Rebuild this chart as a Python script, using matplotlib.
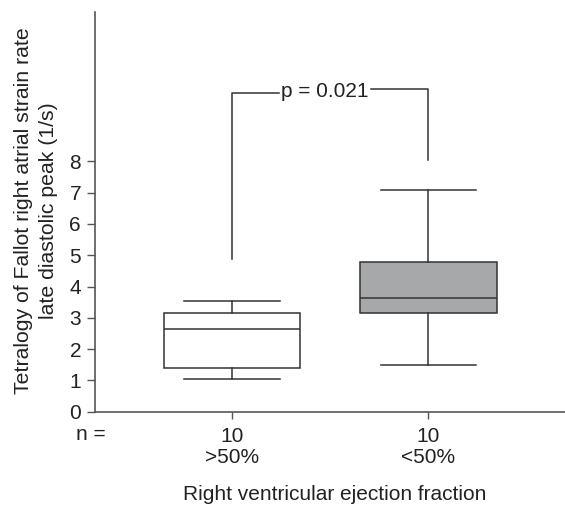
import matplotlib
matplotlib.use("Agg")
import matplotlib.pyplot as plt

plt.rcParams['font.family'] = ['Liberation Sans', 'DejaVu Sans']

groups = [">50%", "<50%"]
n_counts = [10, 10]
whislo = [1.04, 1.50]
q1 = [1.40, 3.14]
med = [2.64, 3.63]
q3 = [3.16, 4.79]
whishi = [3.55, 7.10]
box_colors = ["white", "#a7a8aa"]
bracket_left_bottom = 4.87
bracket_right_bottom = 8.06
bracket_left_top = 10.2
bracket_right_top = 10.3
p_text = "p = 0.021"

FS = 15
tc = "#222222"
fig = plt.figure(figsize=(5.65, 5.08), dpi=100)
ax = fig.add_axes([0.168, 0.1896, 0.832, 0.7864])

lc = "#333333"
stats = []
for i in range(2):
    stats.append(dict(med=med[i], q1=q1[i], q3=q3[i], whislo=whislo[i], whishi=whishi[i], fliers=[]))
bp = ax.bxp(stats, positions=[1, 2], widths=0.695, patch_artist=True, showfliers=False,
            boxprops=dict(edgecolor=lc, linewidth=1.1),
            medianprops=dict(color=lc, linewidth=1.1),
            whiskerprops=dict(color=lc, linewidth=1.1),
            capprops=dict(color=lc, linewidth=1.1), capwidths=0.485)
for patch, c in zip(bp['boxes'], box_colors):
    patch.set_facecolor(c)

# significance bracket
ax.plot([1, 1, 1.24], [bracket_left_bottom, bracket_left_top, bracket_left_top], color=lc, lw=1.1)
ax.plot([1.71, 2, 2], [bracket_right_top, bracket_right_top, bracket_right_bottom], color=lc, lw=1.1)
ax.text(1.475, (bracket_left_top + bracket_right_top) / 2, p_text, ha='center', va='center',
        fontsize=FS, color=tc)

ax.set_xlim(0.303, 2.695)
ax.set_ylim(0, 12.77)
ax.set_yticks(range(0, 9))
ax.set_xticks([1, 2])
ax.set_xticklabels([f"{n}\n{g}" for n, g in zip(n_counts, groups)], fontsize=FS, color=tc,
                   linespacing=1.15)
ax.tick_params(axis='y', labelsize=FS, labelcolor=tc, color="#555555", length=6, width=1, pad=4)
ax.tick_params(axis='x', color="#555555", length=5, width=1, pad=6)
for s in ['top', 'right']:
    ax.spines[s].set_visible(False)
for s in ['left', 'bottom']:
    ax.spines[s].set_color("#555555")
    ax.spines[s].set_linewidth(1.2)

fig.text(76 / 565, 1 - 434 / 508, "n =", ha='left', va='center', fontsize=FS, color=tc)
fig.text(335 / 565, 1 - 494 / 508, "Right ventricular ejection fraction",
         ha='center', va='center', fontsize=FS, color=tc)
fig.text(36.5 / 565, 1 - 211 / 508,
         "Tetralogy of Fallot right atrial strain rate\nlate diastolic peak (1/s)",
         ha='center', va='center', rotation=90, fontsize=15.3, color=tc, linespacing=1.4,
         multialignment='center')

fig.savefig("out.png", dpi=100)
